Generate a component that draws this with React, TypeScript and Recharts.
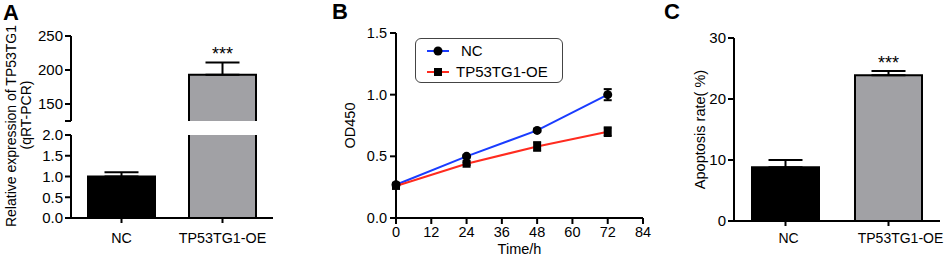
import React from 'react'
import {
  BarChart,
  Bar,
  Cell,
  LineChart,
  Line,
  XAxis,
  YAxis,
  ErrorBar,
  LabelList,
  Legend,
} from 'recharts'

const W = 948
const H = 257
const FONT = '"Liberation Sans", Arial, Helvetica, sans-serif'

// panel A - TP53TG1 expression (broken axis)
const groups = ['NC', 'TP53TG1-OE']
const exprMean = [1.0, 193]
const exprSd = [0.1, 18]
const exprSig = ['', '***']
const exprUpperTicks = [125, 150, 200, 250]
const exprLowerTicks = [0, 0.5, 1.0, 1.5, 2.0]

// panel B - CCK-8 growth curve
const timeH = [0, 24, 48, 72]
const odNC = [0.27, 0.5, 0.71, 1.0]
const odNCsd = [0.01, 0.01, 0.01, 0.045]
const odOE = [0.26, 0.44, 0.58, 0.7]
const odOEsd = [0.01, 0.01, 0.035, 0.035]
const timeTicks = [0, 12, 24, 36, 48, 60, 72, 84]
const odTicks = [0, 0.5, 1.0, 1.5]

// panel C - apoptosis
const apopMean = [8.8, 23.9]
const apopSd = [1.2, 0.7]
const apopSig = ['', '***']
const apopTicks = [0, 10, 20, 30]

const barColors = ['#000000', '#a1a1a5']
const BLUE = '#1a3cff'
const RED = '#ff2b1f'

const upperMin = exprUpperTicks[0]

const exprUpperRows = groups.map((g, i) => ({
  group: g,
  value: exprMean[i] >= upperMin ? exprMean[i] : null,
  err: exprMean[i] >= upperMin ? [0, exprSd[i]] : null,
  sig: exprSig[i],
}))
const exprLowerRows = groups.map((g, i) => ({
  group: g,
  value: exprMean[i],
  err: [0, exprSd[i]],
}))
const growthRows = timeH.map((t, i) => ({
  time: t,
  nc: odNC[i],
  ncErr: odNCsd[i],
  oe: odOE[i],
  oeErr: odOEsd[i],
}))
const apopRows = groups.map((g, i) => ({
  group: g,
  value: apopMean[i],
  err: [0, apopSd[i]],
  sig: apopSig[i],
}))

const axisStroke = { stroke: '#000', strokeWidth: 2 }

// bar with border on left/top/right only (x axis closes the bottom)
const OpenBar = (props: any) => {
  const { x, y, width, height, fill } = props
  if (height == null || height <= 0 || isNaN(y)) return null
  return (
    <g>
      <rect x={x} y={y} width={width} height={height} fill={fill} />
      <path
        d={`M${x},${y + height} V${y} H${x + width} V${y + height}`}
        fill="none"
        stroke="#000"
        strokeWidth={2}
      />
    </g>
  )
}

const sigLabel = (lift: number) => (props: any) => {
  const { x, y, width, value } = props
  if (!value) return null
  return (
    <text x={x + width / 2} y={y - lift} textAnchor="middle" fontSize={18} fill="#000">
      {value}
    </text>
  )
}

const CircleDot = (props: any) => {
  const { cx, cy, index } = props
  return <circle key={`c${index}`} cx={cx} cy={cy} r={4.5} fill="#000" />
}
const SquareDot = (props: any) => {
  const { cx, cy, index } = props
  return <rect key={`s${index}`} x={cx - 4} y={cy - 4} width={8} height={8} fill="#000" />
}

const GrowthLegend = (props: any) => {
  const { payload } = props
  return (
    <div
      style={{
        boxSizing: 'border-box',
        width: 148,
        height: 45,
        border: '1.5px solid #444',
        borderRadius: 6,
        padding: '1px 0 0 11px',
        fontSize: 15,
        color: '#000',
        fontFamily: FONT,
      }}
    >
      {(payload || []).map((item: any) => (
        <div key={item.value} style={{ display: 'flex', alignItems: 'center', height: 21 }}>
          <svg width={22} height={12} style={{ flex: 'none' }}>
            <line x1={0} y1={6} x2={22} y2={6} stroke={item.color} strokeWidth={2} />
            {item.dataKey === 'nc' ? (
              <circle cx={11} cy={6} r={4.5} fill="#000" />
            ) : (
              <rect x={7} y={2} width={8} height={8} fill="#000" />
            )}
          </svg>
          <span style={{ marginLeft: item.dataKey === 'nc' ? 12 : 7, lineHeight: '15px' }}>
            {item.value}
          </span>
        </div>
      ))}
    </div>
  )
}

// category tick that can be nudged sideways like the original layout
const CatTick = (shift: number[], size: number) => (props: any) => {
  const { x, y, payload, index } = props
  return (
    <text x={x + (shift[index] || 0)} y={y} dy="0.71em" textAnchor="middle" fontSize={size} fill="#000">
      {payload.value}
    </text>
  )
}

const layer: React.CSSProperties = { position: 'absolute', left: 0, top: 0 }

export default function App() {
  return (
    <div
      style={{
        position: 'absolute',
        left: 0,
        top: 0,
        width: W,
        height: H,
        background: '#fff',
        fontFamily: FONT,
        overflow: 'hidden',
      }}
    >
      {/* A - upper segment of the broken axis */}
      <div style={layer}>
        <BarChart
          width={W}
          height={H}
          data={exprUpperRows}
          margin={{ top: 36, right: 675, bottom: 136, left: 11 }}
        >
          <XAxis dataKey="group" hide />
          <YAxis
            width={60}
            domain={[upperMin, 250]}
            allowDataOverflow
            ticks={exprUpperTicks}
            interval={0}
            tickFormatter={(v: number) => (v === upperMin ? '' : String(v))}
            axisLine={axisStroke}
            tickLine={axisStroke}
            tickSize={6}
            tickMargin={2}
            tick={{ fill: '#000', fontSize: 15 }}
          />
          <Bar dataKey="value" barSize={67} shape={OpenBar} isAnimationActive={false}>
            {exprUpperRows.map((r, i) => (
              <Cell key={r.group} fill={barColors[i]} />
            ))}
            <ErrorBar dataKey="err" width={17} stroke="#000" strokeWidth={2} direction="y" />
            <LabelList dataKey="sig" content={sigLabel(15)} />
          </Bar>
        </BarChart>
      </div>

      {/* A - lower segment */}
      <div style={layer}>
        <BarChart
          width={W}
          height={H}
          data={exprLowerRows}
          margin={{ top: 135, right: 675, bottom: 9, left: 11 }}
        >
          <XAxis
            dataKey="group"
            height={30}
            interval={0}
            axisLine={axisStroke}
            tickLine={axisStroke}
            tickSize={5}
            tickMargin={10}
            tick={CatTick([0, 0], 14.3)}
          />
          <YAxis
            width={60}
            domain={[0, 2]}
            allowDataOverflow
            ticks={exprLowerTicks}
            interval={0}
            tickFormatter={(v: number) => v.toFixed(1)}
            axisLine={axisStroke}
            tickLine={axisStroke}
            tickSize={6}
            tickMargin={2}
            tick={{ fill: '#000', fontSize: 15 }}
          />
          <Bar dataKey="value" barSize={67} shape={OpenBar} isAnimationActive={false}>
            {exprLowerRows.map((r, i) => (
              <Cell key={r.group} fill={barColors[i]} />
            ))}
            <ErrorBar dataKey="err" width={17} stroke="#000" strokeWidth={2} direction="y" />
          </Bar>
        </BarChart>
      </div>

      {/* B - growth curve */}
      <div style={layer}>
        <LineChart
          width={W}
          height={H}
          data={growthRows}
          margin={{ top: 33, right: 305, bottom: 0, left: 304 }}
        >
          <XAxis
            dataKey="time"
            type="number"
            domain={[0, 84]}
            ticks={timeTicks}
            interval={0}
            height={39}
            axisLine={axisStroke}
            tickLine={axisStroke}
            tickSize={6}
            tickMargin={3}
            tick={{ fill: '#000', fontSize: 14.5 }}
            label={{ value: 'Time/h', position: 'insideBottom', offset: 3, fill: '#000', fontSize: 14.5 }}
          />
          <YAxis
            width={92}
            domain={[0, 1.5]}
            ticks={odTicks}
            interval={0}
            tickFormatter={(v: number) => v.toFixed(1)}
            axisLine={axisStroke}
            tickLine={axisStroke}
            tickSize={6}
            tickMargin={3}
            tick={{ fill: '#000', fontSize: 14.5 }}
            label={{ value: 'OD450', angle: -90, position: 'center', fill: '#000', fontSize: 14.5 }}
          />
          <Legend
            layout="horizontal"
            verticalAlign="middle"
            align="center"
            wrapperStyle={{ left: 415, top: 38, width: 148, height: 45 }}
            content={GrowthLegend}
          />
          <Line
            dataKey="nc"
            name="NC"
            stroke={BLUE}
            strokeWidth={2}
            dot={CircleDot}
            activeDot={false}
            isAnimationActive={false}
          >
            <ErrorBar dataKey="ncErr" width={4} stroke="#000" strokeWidth={2} direction="y" />
          </Line>
          <Line
            dataKey="oe"
            name="TP53TG1-OE"
            stroke={RED}
            strokeWidth={2}
            dot={SquareDot}
            activeDot={false}
            isAnimationActive={false}
          >
            <ErrorBar dataKey="oeErr" width={4} stroke="#000" strokeWidth={2} direction="y" />
          </Line>
        </LineChart>
      </div>

      {/* C - apoptosis rate */}
      <div style={layer}>
        <BarChart
          width={W}
          height={H}
          data={apopRows}
          margin={{ top: 38, right: 8, bottom: 6, left: 666 }}
        >
          <XAxis
            dataKey="group"
            height={30}
            interval={0}
            axisLine={axisStroke}
            tickLine={axisStroke}
            tickSize={5}
            tickMargin={7}
            tick={CatTick([3, 12], 14)}
          />
          <YAxis
            width={68}
            domain={[0, 30]}
            ticks={apopTicks}
            interval={0}
            axisLine={axisStroke}
            tickLine={axisStroke}
            tickSize={6}
            tickMargin={2}
            tick={{ fill: '#000', fontSize: 15 }}
            label={{ value: 'Apoptosis rate( %)', angle: -90, position: 'center', fill: '#000', fontSize: 14.5 }}
          />
          <Bar dataKey="value" barSize={67} shape={OpenBar} isAnimationActive={false}>
            {apopRows.map((r, i) => (
              <Cell key={r.group} fill={barColors[i]} />
            ))}
            <ErrorBar dataKey="err" width={17} stroke="#000" strokeWidth={2} direction="y" />
            <LabelList dataKey="sig" content={sigLabel(6)} />
          </Bar>
        </BarChart>
      </div>

      {/* panel letters and the two-line y title of panel A */}
      <svg width={W} height={H} style={{ ...layer, pointerEvents: 'none' }} fontFamily={FONT}>
        <text x={3} y={19.5} fontSize={22} fontWeight="bold" fill="#000">A</text>
        <text x={332} y={19} fontSize={22} fontWeight="bold" fill="#000">B</text>
        <text x={664} y={18.5} fontSize={22} fontWeight="bold" fill="#000">C</text>
        <text transform="translate(16,126) rotate(-90)" textAnchor="middle" fontSize={14} fill="#000">
          Relative expression of TP53TG1
        </text>
        <text transform="translate(31,115) rotate(-90)" textAnchor="middle" fontSize={14} fill="#000">
          (qRT-PCR)
        </text>
      </svg>
    </div>
  )
}
